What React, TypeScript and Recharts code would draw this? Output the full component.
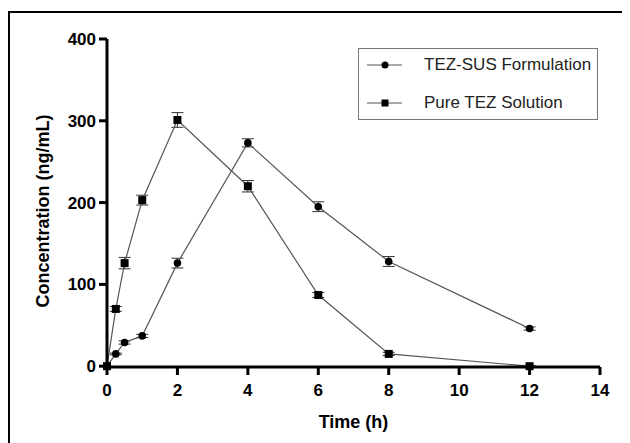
import React from 'react';
import {
  LineChart,
  Line,
  XAxis,
  YAxis,
  ErrorBar,
  Legend,
} from 'recharts';

const times = [0, 0.25, 0.5, 1, 2, 4, 6, 8, 12];
const susValues = [0, 15, 29, 37, 126, 273, 195, 128, 46];
const susErrors = [0, 1, 2, 2, 6, 5, 6, 6, 2];
const pureValues = [0, 70, 126, 203, 301, 220, 87, 15, 0];
const pureErrors = [0, 3, 7, 6, 9, 7, 3, 2, 1];

const xTicks = [0, 2, 4, 6, 8, 10, 12, 14];
const yTicks = [0, 100, 200, 300, 400];

const seriesNames = ['TEZ-SUS Formulation', 'Pure TEZ Solution'];

const FONT = '"Liberation Sans", Arial, sans-serif';

const data = times.map((t, i) => ({
  time: t,
  sus: susValues[i],
  susErr: susErrors[i],
  pure: pureValues[i],
  pureErr: pureErrors[i],
}));

const CircleDot = (props: any) => {
  const { cx, cy, index } = props;
  if (cx == null || cy == null) return null;
  return <circle key={`c-${index}`} cx={cx} cy={cy} r={3.8} fill="#000" />;
};

const SquareDot = (props: any) => {
  const { cx, cy, index } = props;
  if (cx == null || cy == null) return null;
  return <rect key={`s-${index}`} x={cx - 4} y={cy - 4} width={8} height={8} fill="#000" />;
};

const LegendBox = () => (
  <div
    style={{
      width: 238,
      height: 70,
      border: '1px solid #777',
      background: '#fff',
      position: 'relative',
      fontFamily: FONT,
      fontSize: 17,
      color: '#222',
    }}
  >
    {seriesNames.map((name, i) => (
      <div
        key={name}
        style={{
          position: 'absolute',
          left: 0,
          top: i === 0 ? 7 : 45,
          height: 18,
          display: 'flex',
          alignItems: 'center',
        }}
      >
        <svg width={60} height={18} style={{ marginLeft: 8 }}>
          <line x1={0} y1={9} x2={35} y2={9} stroke="#555" strokeWidth={1.2} />
          {i === 0 ? (
            <circle cx={18} cy={9} r={3.5} fill="#000" />
          ) : (
            <rect x={14.5} y={5.5} width={7} height={7} fill="#000" />
          )}
        </svg>
        <span style={{ marginLeft: -3, whiteSpace: 'nowrap' }}>{name}</span>
      </div>
    ))}
  </div>
);

export default function App() {
  return (
    <div style={{ position: 'relative', width: 614, height: 435, overflow: 'hidden' }}>
      {/* frame around the figure (only top and left edges are in view) */}
      <div
        style={{
          position: 'absolute',
          left: 0,
          top: 3,
          width: 700,
          height: 500,
          borderLeft: '2px solid #000',
          borderTop: '2px solid #000',
        }}
      />
      <LineChart
        width={614}
        height={435}
        data={data}
        margin={{ top: 31, right: 22, bottom: 0, left: 0 }}
      >
        <XAxis
          dataKey="time"
          type="number"
          domain={[0, 14]}
          ticks={xTicks}
          axisLine={{ stroke: '#000', strokeWidth: 3 }}
          tickLine={{ stroke: '#000', strokeWidth: 3 }}
          tickSize={8}
          tickMargin={9}
          height={76}
          tick={{ fill: '#000', fontSize: 17, fontWeight: 'bold', fontFamily: FONT }}
          label={{
            content: ({ viewBox }: any) => (
              <text
                x={viewBox.x + viewBox.width / 2}
                y={viewBox.y + 56}
                textAnchor="middle"
                dominantBaseline="middle"
                fontFamily={FONT}
                fontWeight="bold"
                fontSize={18}
                fill="#000"
              >
                Time (h)
              </text>
            ),
          }}
        />
        <YAxis
          type="number"
          domain={[0, 400]}
          ticks={yTicks}
          width={99}
          axisLine={{ stroke: '#000', strokeWidth: 3 }}
          tickLine={{ stroke: '#000', strokeWidth: 3 }}
          tickSize={8}
          tickMargin={3}
          tick={{ fill: '#000', fontSize: 17, fontWeight: 'bold', fontFamily: FONT }}
          label={{
            content: ({ viewBox }: any) => {
              const x = viewBox.x + 36;
              const y = viewBox.y + viewBox.height / 2 + 8;
              return (
                <text
                  x={x}
                  y={y}
                  transform={`rotate(-90 ${x} ${y})`}
                  textAnchor="middle"
                  dominantBaseline="middle"
                  fontFamily={FONT}
                  fontWeight="bold"
                  fontSize={18}
                  fill="#000"
                >
                  Concentration (ng/mL)
                </text>
              );
            },
          }}
        />
        <Legend
          layout="horizontal"
          align="center"
          verticalAlign="middle"
          content={() => <LegendBox />}
          wrapperStyle={{ position: 'absolute', left: 350, top: 40, width: 240, height: 72 }}
        />
        <Line
          dataKey="sus"
          name={seriesNames[0]}
          stroke="#555"
          strokeWidth={1.2}
          dot={CircleDot}
          activeDot={false}
          isAnimationActive={false}
        >
          <ErrorBar dataKey="susErr" direction="y" width={6} stroke="#333" strokeWidth={1} />
        </Line>
        <Line
          dataKey="pure"
          name={seriesNames[1]}
          stroke="#555"
          strokeWidth={1.2}
          dot={SquareDot}
          activeDot={false}
          isAnimationActive={false}
        >
          <ErrorBar dataKey="pureErr" direction="y" width={6} stroke="#333" strokeWidth={1} />
        </Line>
      </LineChart>
    </div>
  );
}
